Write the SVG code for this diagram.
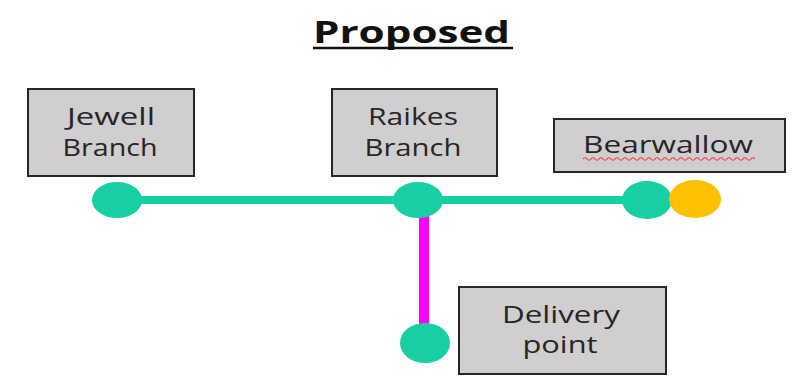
<svg xmlns="http://www.w3.org/2000/svg" width="795" height="383" viewBox="0 0 795 383">
<style>
.box{fill:#d0cece;stroke:#262626;stroke-width:2}
.lbl{font-family:"Open Sans","Liberation Sans",sans-serif;font-size:23px;fill:#262626;text-anchor:middle}
.ttl{font-family:"Open Sans","Liberation Sans",sans-serif;font-size:31px;font-weight:bold;fill:#111}
.teal{fill:#17cfa1}
</style>
<rect width="795" height="383" fill="#fff"/>
<g id="title">
<text class="ttl" x="313" y="43" textLength="197" lengthAdjust="spacingAndGlyphs">Proposed</text>
<line x1="313" y1="48" x2="513" y2="48" stroke="#111" stroke-width="2.5"/>
</g>
<g id="connectors">
<line x1="117" y1="200" x2="648" y2="200" stroke="#17cfa1" stroke-width="8"/>
<line x1="424" y1="205" x2="424" y2="340" stroke="#ff00ff" stroke-width="10"/>
</g>
<g id="jewell">
<rect class="box" x="28" y="89" width="166" height="87"/>
<text class="lbl" x="111" y="125" textLength="88" lengthAdjust="spacingAndGlyphs">Jewell</text>
<text class="lbl" x="110" y="156" textLength="95" lengthAdjust="spacingAndGlyphs">Branch</text>
<ellipse class="teal" cx="117" cy="200" rx="25" ry="18"/>
</g>
<g id="raikes">
<rect class="box" x="332" y="89" width="165" height="87"/>
<text class="lbl" x="413" y="125" textLength="90" lengthAdjust="spacingAndGlyphs">Raikes</text>
<text class="lbl" x="413" y="156" textLength="97" lengthAdjust="spacingAndGlyphs">Branch</text>
<ellipse class="teal" cx="418" cy="200" rx="25" ry="18"/>
</g>
<g id="bearwallow">
<rect class="box" x="554" y="119" width="231" height="53"/>
<text class="lbl" x="668" y="153" textLength="170" lengthAdjust="spacingAndGlyphs">Bearwallow</text>
<path d="M583 159 q2 -2.5 4 0 t4 0 t4 0 t4 0 t4 0 t4 0 t4 0 t4 0 t4 0 t4 0 t4 0 t4 0 t4 0 t4 0 t4 0 t4 0 t4 0 t4 0 t4 0 t4 0 t4 0 t4 0 t4 0 t4 0 t4 0 t4 0 t4 0 t4 0 t4 0 t4 0 t4 0 t4 0 t4 0 t4 0 t4 0 t4 0 t4 0 t4 0 t4 0 t4 0 t4 0 t4 0 t4 0" fill="none" stroke="#f03c3c" stroke-width="1.2"/>
<ellipse class="teal" cx="647" cy="200" rx="25" ry="19"/>
<ellipse cx="695" cy="199" rx="26" ry="19" fill="#ffc000"/>
</g>
<g id="delivery">
<rect class="box" x="459" y="287" width="207" height="87"/>
<text class="lbl" x="561" y="323" textLength="118" lengthAdjust="spacingAndGlyphs">Delivery</text>
<text class="lbl" x="560" y="353" textLength="75" lengthAdjust="spacingAndGlyphs">point</text>
<ellipse class="teal" cx="425" cy="343" rx="25" ry="20"/>
</g>
</svg>
